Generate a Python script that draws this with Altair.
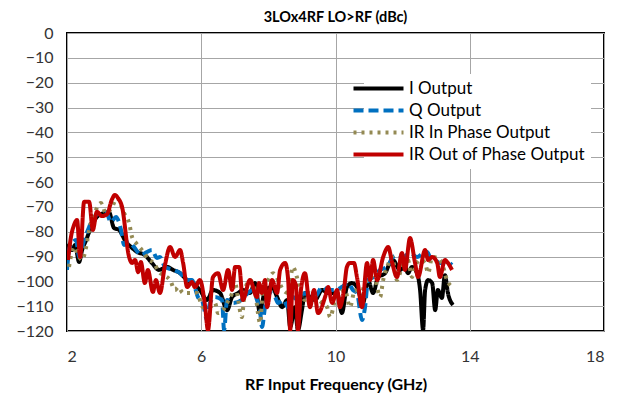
import altair as alt
import pandas as pd

series_names = ["I Output", "Q Output", "IR In Phase Output", "IR Out of Phase Output"]
series_colors = ["#000000", "#0070C0", "#948A54", "#C00000"]
series_dashes = [[1, 0], [10, 5], [3, 5], [1, 0]]

x_ticks = [2, 6, 10, 14, 18]
y_ticks = [-120, -110, -100, -90, -80, -70, -60, -50, -40, -30, -20, -10, 0]

i_freq = [2.0, 2.06, 2.15, 2.24, 2.36, 2.45, 2.57, 2.72, 2.89, 3.10, 3.25, 3.40, 3.55, 3.76, 3.91,
          4.09, 4.32, 4.53, 4.74, 4.98, 5.16, 5.37, 5.58, 5.75, 5.96, 6.17, 6.35, 6.56, 6.77, 6.92,
          7.10, 7.24, 7.45, 7.60, 7.75, 7.90, 8.11, 8.26, 8.41, 8.56, 8.65, 8.79, 8.88, 9.00, 9.09,
          9.24, 9.39, 9.60, 9.78, 10.05, 10.19, 10.34, 10.49, 10.64, 10.82, 10.97, 11.12, 11.27,
          11.48, 11.62, 11.71, 11.92, 12.07, 12.16, 12.28, 12.43, 12.52, 12.61, 12.67, 12.76,
          12.88, 12.97, 13.05, 13.17, 13.26, 13.35, 13.50]
i_db = [-93.4, -85.4, -87.4, -85.4, -92.2, -87.4, -83.4, -78.1, -74.1, -72.5, -72.1, -78.5, -79.3,
        -84.2, -86.2, -88.2, -89.4, -92.6, -95.4, -94.2, -95.4, -96.7, -99.5, -100.7, -103.5,
        -107.5, -103.5, -104.7, -111.6, -106.3, -104.7, -103.5, -104.7, -100.7, -112.8, -103.5,
        -102.3, -106.3, -110.4, -107.5, -118.4, -110.4, -119.6, -111.6, -104.7, -106.3, -107.5,
        -103.5, -104.7, -104.7, -112.8, -102.3, -100.7, -102.3, -108.7, -99.5, -104.7, -98.3,
        -96.7, -92.6, -91.4, -95.4, -94.2, -96.7, -94.2, -96.7, -103.5, -119.6, -103.5, -99.5,
        -100.7, -111.6, -103.5, -106.7, -97.5, -104.7, -109.5]

q_freq = [2.0, 2.06, 2.15, 2.27, 2.36, 2.51, 2.66, 2.80, 3.01, 3.16, 3.31, 3.46, 3.61, 3.70, 3.85,
          4.00, 4.20, 4.38, 4.53, 4.68, 4.77, 4.92, 5.16, 5.37, 5.58, 5.72, 5.90, 6.05, 6.17, 6.26,
          6.41, 6.62, 6.68, 6.77, 6.95, 7.21, 7.39, 7.54, 7.66, 7.75, 7.81, 7.90, 8.05, 8.20, 8.29,
          8.44, 8.59, 8.73, 8.88, 9.09, 9.24, 9.39, 9.60, 9.78, 9.99, 10.19, 10.37, 10.52, 10.64,
          10.79, 10.88, 10.97, 11.12, 11.33, 11.54, 11.71, 11.86, 12.01, 12.22, 12.43, 12.61,
          12.73, 12.82, 12.91, 13.11, 13.32, 13.47]
q_db = [-95.4, -87.4, -84.6, -83.4, -90.2, -83.4, -78.1, -74.1, -72.5, -72.1, -76.1, -74.1, -79.3,
        -85.4, -84.2, -86.2, -89.4, -88.2, -87.4, -90.6, -90.2, -94.2, -95.4, -96.7, -99.5, -99.5,
        -106.3, -108.7, -115.6, -108.7, -106.3, -107.5, -119.6, -107.5, -108.7, -107.5, -104.7,
        -103.5, -107.5, -111.6, -118.4, -110.4, -104.7, -106.3, -108.7, -107.5, -110.4, -106.3,
        -107.5, -104.7, -106.3, -106.3, -102.3, -103.5, -103.5, -102.3, -100.7, -103.5, -104.7,
        -115.6, -110.4, -99.5, -98.3, -95.4, -94.2, -90.2, -89.4, -90.2, -88.6, -90.2, -88.6,
        -88.2, -90.2, -90.6, -92.6, -92.2, -93.4]

irin_freq = [2.06, 2.21, 2.36, 2.45, 2.57, 2.66, 2.86, 3.01, 3.16, 3.34, 3.49, 3.70, 3.85, 3.94,
             4.06, 4.23, 4.44, 4.59, 4.74, 4.89, 5.07, 5.22, 5.31, 5.46, 5.67, 5.87, 6.05, 6.26,
             6.41, 6.50, 6.65, 6.77, 6.92, 7.01, 7.10, 7.21, 7.30, 7.45, 7.60, 7.69, 7.75, 7.84,
             7.99, 8.14, 8.29, 8.44, 8.59, 8.73, 8.85, 8.94, 9.09, 9.24, 9.39, 9.60, 9.75, 9.84,
             9.99, 10.13, 10.28, 10.43, 10.58, 10.73, 10.88, 11.03, 11.18, 11.33, 11.42, 11.54,
             11.69, 11.83, 11.92, 12.01, 12.16, 12.28, 12.37, 12.52, 12.67, 12.76, 12.88, 13.03,
             13.17, 13.32, 13.47]
irin_db = [-94.2, -86.2, -90.2, -91.4, -86.2, -79.3, -71.3, -68.5, -72.5, -70.1, -66.5, -72.5,
           -76.5, -82.2, -84.6, -87.4, -91.4, -92.6, -96.3, -97.5, -99.5, -103.5, -102.3, -104.7,
           -104.7, -104.7, -110.4, -110.4, -108.7, -112.8, -111.6, -108.7, -104.7, -100.7, -107.5,
           -114.4, -103.5, -99.5, -103.5, -112.8, -116.8, -103.5, -99.5, -96.7, -99.5, -103.5,
           -104.7, -94.2, -98.3, -103.5, -107.5, -104.7, -106.3, -108.7, -110.4, -114.4, -107.5,
           -104.7, -103.5, -110.4, -103.5, -106.3, -100.7, -98.3, -99.5, -106.3, -99.5, -94.2,
           -90.2, -99.5, -96.7, -90.2, -91.4, -98.3, -94.2, -91.4, -92.6, -96.7, -90.2, -90.6,
           -92.6, -99.5, -102.3]

irout_freq = [2.03, 2.12, 2.21, 2.30, 2.39, 2.51, 2.66, 2.77, 2.89, 3.04, 3.19, 3.34, 3.43, 3.52,
              3.64, 3.85, 3.94, 4.03, 4.12, 4.20, 4.32, 4.41, 4.56, 4.65, 4.77, 4.92, 5.07, 5.22,
              5.37, 5.46, 5.58, 5.72, 5.81, 5.96, 6.11, 6.20, 6.35, 6.50, 6.65, 6.80, 6.92, 7.01,
              7.13, 7.24, 7.45, 7.66, 7.72, 7.81, 7.90, 7.96, 8.11, 8.26, 8.35, 8.50, 8.59, 8.65,
              8.73, 8.82, 8.88, 8.97, 9.09, 9.24, 9.36, 9.48, 9.69, 9.78, 9.90, 10.05, 10.13,
              10.25, 10.34, 10.43, 10.55, 10.64, 10.79, 10.94, 11.03, 11.12, 11.24, 11.42, 11.57,
              11.69, 11.83, 11.98, 12.07, 12.22, 12.37, 12.46, 12.67, 12.76, 12.88, 13.03, 13.11,
              13.26, 13.35, 13.47]
irout_db = [-91.4, -82.0, -77.3, -75.3, -90.2, -68.0, -68.0, -79.3, -72.0, -73.7, -73.0, -67.0,
            -65.2, -66.5, -70.0, -90.2, -92.6, -91.4, -96.3, -92.2, -100.7, -95.4, -104.3, -99.5,
            -104.7, -93.4, -86.2, -90.2, -87.4, -92.6, -102.3, -100.3, -102.3, -99.5, -109.5,
            -119.6, -98.3, -96.7, -103.5, -95.4, -103.5, -94.2, -94.2, -107.5, -99.5, -106.3,
            -100.7, -104.7, -99.5, -110.4, -99.5, -104.7, -95.4, -92.6, -99.5, -119.6, -99.5,
            -101.5, -119.6, -103.5, -96.7, -110.4, -103.5, -112.8, -106.3, -102.3, -108.7, -103.5,
            -110.4, -103.5, -94.2, -92.6, -92.6, -98.3, -110.4, -92.6, -99.5, -91.4, -99.5, -90.2,
            -86.2, -92.6, -98.3, -88.6, -95.4, -82.6, -92.6, -98.3, -87.4, -91.4, -90.2, -92.6,
            -98.3, -91.4, -92.6, -95.4]

all_freq = [i_freq, q_freq, irin_freq, irout_freq]
all_db = [i_db, q_db, irin_db, irout_db]

font = "Lato"

color_scale = alt.Scale(domain=series_names, range=series_colors)
dash_scale = alt.Scale(domain=series_names, range=series_dashes)
legend = alt.Legend(
    title=None, orient="none", legendX=297, legendY=41,
    symbolType="M-5,0H5", symbolSize=100, symbolStrokeWidth=4,
    labelFontSize=17, labelFont=font, labelColor="#000000", labelOffset=22, labelLimit=400,
    rowPadding=4, fillColor="white", padding=6,
)

layers = []
for name, fr, db in zip(series_names, all_freq, all_db):
    df = pd.DataFrame({"freq": fr, "db": db, "series": name})
    layers.append(
        alt.Chart(df).mark_line(strokeWidth=4, interpolate="monotone", strokeJoin="round", clip=True).encode(
            x=alt.X("freq:Q", scale=alt.Scale(domain=[2, 18], nice=False),
                    axis=alt.Axis(values=x_ticks, title="RF Input Frequency (GHz)")),
            y=alt.Y("db:Q", scale=alt.Scale(domain=[-120, 0], nice=False),
                    axis=alt.Axis(values=y_ticks, title=None)),
            color=alt.Color("series:N", scale=color_scale, legend=legend),
            strokeDash=alt.StrokeDash("series:N", scale=dash_scale, legend=legend),
        )
    )

chart = alt.layer(*layers).properties(
    width=537, height=298,
    title=alt.TitleParams("3LOx4RF LO>RF (dBc)", font=font, fontSize=14.5, fontWeight="bold",
                          anchor="middle", offset=0, color="#000000"),
    autosize=alt.AutoSizeParams(type="none"),
    padding={"left": 59, "top": 25, "right": 13, "bottom": 70},
).configure_view(
    stroke="#000000", strokeWidth=2
).configure_axis(
    domain=False, ticks=False, grid=True, gridColor="#A6A6A6", gridWidth=1,
    labelFont=font, labelFontSize=16, labelColor="#333333",
    titleFont=font, titleFontSize=16, titleFontWeight="bold", titleColor="#000000",
).configure_axisX(
    labelPadding=17, titlePadding=12
).configure_axisY(
    labelPadding=14
)

chart.save("out.html", embed_options={"renderer": "svg", "actions": False})
